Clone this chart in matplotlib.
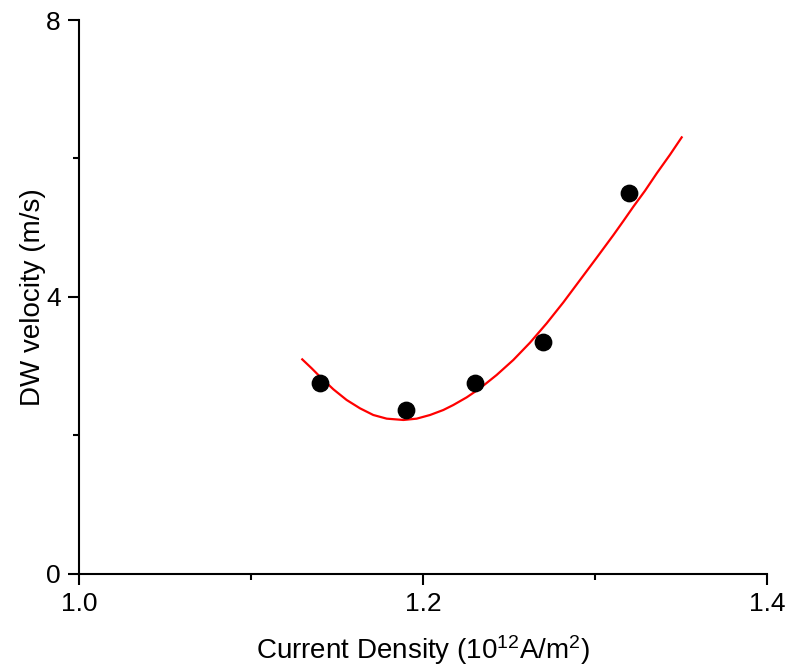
import matplotlib
matplotlib.use("Agg")
import matplotlib.pyplot as plt
from matplotlib.ticker import MultipleLocator

plt.rcParams['font.family'] = ['Liberation Sans', 'DejaVu Sans']
plt.rcParams['mathtext.fontset'] = 'custom'
plt.rcParams['mathtext.rm'] = 'Liberation Sans'
plt.rcParams['mathtext.it'] = 'Liberation Sans:italic'
plt.rcParams['mathtext.bf'] = 'Liberation Sans:bold'

# measured data points
current_density = [1.14, 1.19, 1.23, 1.27, 1.32]
dw_velocity = [2.75, 2.37, 2.76, 3.35, 5.50]

# fit curve
fit_x = [1.1298, 1.1353, 1.1401, 1.1479, 1.1556, 1.1634, 1.1711, 1.1789,
         1.1886, 1.1963, 1.2041, 1.2118, 1.2176, 1.2254, 1.2331, 1.2428,
         1.2525, 1.2622, 1.2719, 1.2816, 1.2913, 1.3010, 1.3107, 1.3165,
         1.3223, 1.3291, 1.3359, 1.3436, 1.3504]
fit_y = [3.095, 2.965, 2.845, 2.662, 2.508, 2.387, 2.291, 2.238,
         2.219, 2.238, 2.291, 2.363, 2.435, 2.546, 2.676, 2.869,
         3.086, 3.336, 3.616, 3.919, 4.242, 4.565, 4.892, 5.095,
         5.302, 5.533, 5.784, 6.053, 6.304]

x_ticks = [1.0, 1.2, 1.4]
x_ticklabels = ["1.0", "1.2", "1.4"]
y_ticks = [0, 4, 8]
y_ticklabels = ["0", "4", "8"]

fig = plt.figure(figsize=(7.85, 6.66), dpi=100)
ax = fig.add_axes([79/785, 1 - 573.5/666, (767-79)/785, (573.5-20)/666])

ax.plot(fit_x, fit_y, color='#ff0000', lw=1.6, zorder=2, solid_joinstyle='round')
ax.plot(current_density, dw_velocity, 'o', color='black', markersize=11.8, zorder=3)

ax.set_xlim(1.0, 1.4)
ax.set_ylim(0, 8)
ax.set_xticks(x_ticks)
ax.set_xticklabels(x_ticklabels)
ax.set_yticks(y_ticks)
ax.set_yticklabels(y_ticklabels)
ax.xaxis.set_minor_locator(MultipleLocator(0.1))
ax.yaxis.set_minor_locator(MultipleLocator(2))

for s in ['top', 'right']:
    ax.spines[s].set_visible(False)
for s in ['left', 'bottom']:
    ax.spines[s].set_linewidth(1.5)

ax.tick_params(which='major', direction='out', length=8, width=1.5, labelsize=19, pad=5)
ax.tick_params(which='minor', direction='out', length=4, width=1.5)

ax.set_xlabel(r"Current Density (10$^{12}$A/m$^{2}$)", fontsize=20, labelpad=13)
ax.set_ylabel("DW velocity (m/s)", fontsize=20, labelpad=0)

fig.savefig("out.png", dpi=100)
